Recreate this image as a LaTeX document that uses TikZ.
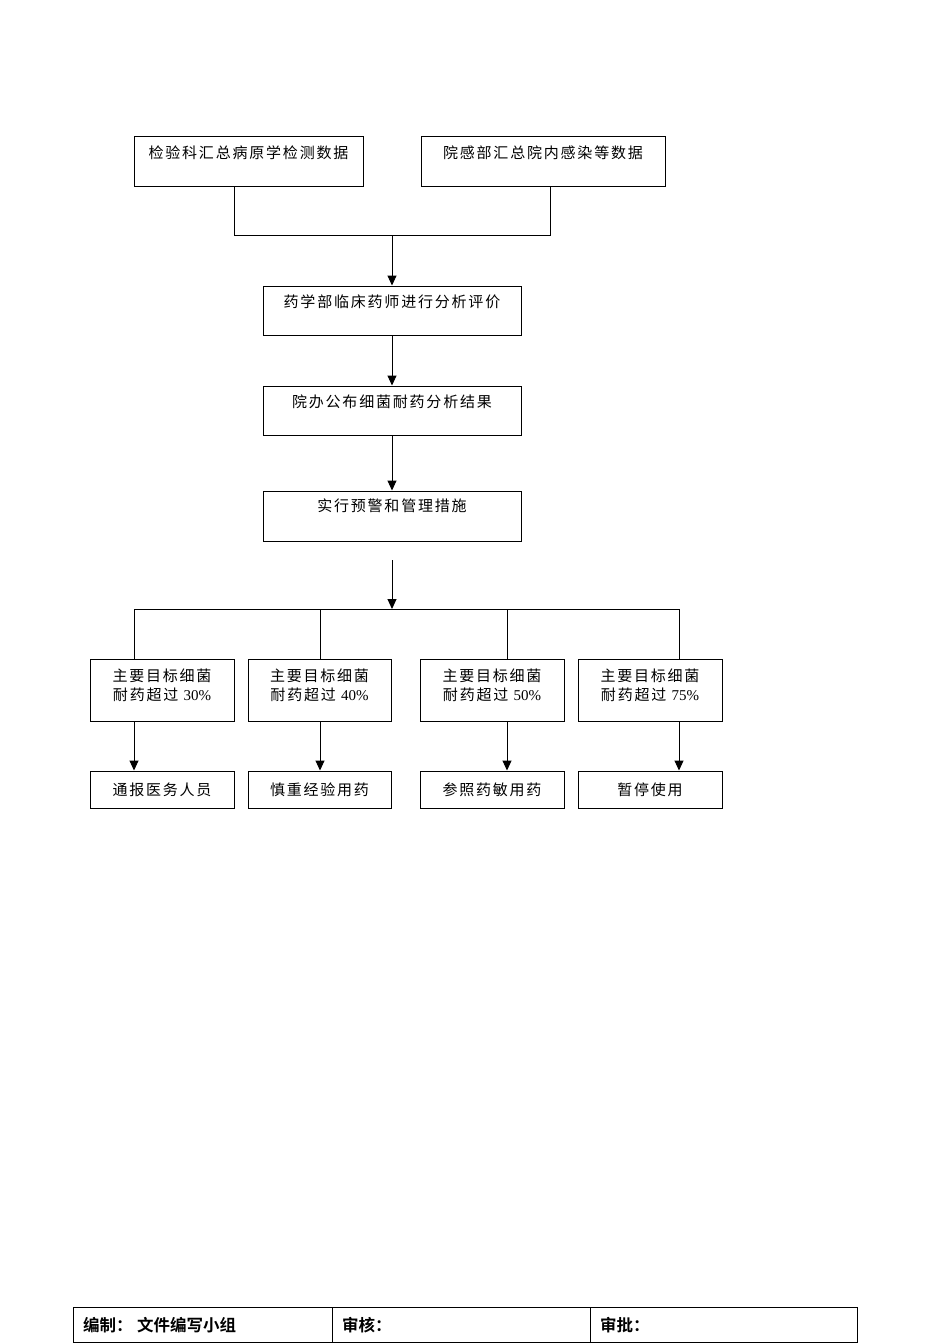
\documentclass[tikz,border=0pt]{standalone}
\usepackage{fontspec}
\usetikzlibrary{arrows.meta}
\newfontfamily\cjk[LetterSpace=12]{Noto Sans CJK SC}
\newfontfamily\cjkb[BoldFont=* Bold]{Noto Sans CJK SC}
\newfontfamily\numf{Liberation Serif}
\begin{document}
\begin{tikzpicture}[x=1pt,y=-1pt,
  box/.style={draw=black,line width=1pt,inner sep=0pt,fill=white},
  txt/.style={font=\fontsize{15}{19}\cjk,inner sep=0pt,align=center,text=black},
  arr/.style={line width=1pt,-{Triangle[length=10pt,width=9pt]}},
  ln/.style={line width=1pt},
  tb/.style={font=\fontsize{16.5}{18}\cjkb\bfseries,anchor=west,inner sep=0pt}]
\useasboundingbox[fill=white] (0,0) rectangle (950,1344);
% top boxes
\node[box,minimum width=229pt,minimum height=50pt] (a) at (248.5,161) {};
\node[txt] at ([yshift=-17pt]a.north) {检验科汇总病原学检测数据};
\node[box,minimum width=244pt,minimum height=50pt] (b) at (543,161) {};
\node[txt] at ([yshift=-17pt]b.north) {院感部汇总院内感染等数据};
\coordinate (j) at (392,235);
\draw[ln] ([xshift=-14.5pt]a.south) |- (j);
\draw[ln] ([xshift=7pt]b.south) |- (j);
% chain
\node[box,minimum width=258pt,minimum height=49pt] (c) at (392,310.5) {};
\node[txt] at ([yshift=-16pt]c.north) {药学部临床药师进行分析评价};
\node[box,minimum width=258pt,minimum height=49pt] (d) at (392,410.5) {};
\node[txt] at ([yshift=-16pt]d.north) {院办公布细菌耐药分析结果};
\node[box,minimum width=258pt,minimum height=50pt] (e) at (392,516) {};
\node[txt] at ([yshift=-15pt]e.north) {实行预警和管理措施};
\draw[arr] (j) -- (c.north);
\draw[arr] (c.south) -- (d.north);
\draw[arr] (d.south) -- (e.north);
% distribution
\coordinate (s) at (392,560);
\coordinate (h) at (392,609);
\draw[arr] (s) -- (h);
\coordinate (v1) at (134,609);
\coordinate (v2) at (320,609);
\coordinate (v3) at (507,609);
\coordinate (v4) at (679,609);
\draw[ln] (v1) -- (v4);
% threshold boxes
\node[box,minimum width=144pt,minimum height=62pt] (t1) at (162,690) {};
\node[box,minimum width=143pt,minimum height=62pt] (t2) at (319.5,690) {};
\node[box,minimum width=144pt,minimum height=62pt] (t3) at (492,690) {};
\node[box,minimum width=144pt,minimum height=62pt] (t4) at (650,690) {};
\node[txt] at ([yshift=-26.5pt]t1.north) {主要目标细菌\\耐药超过 {\numf 30\%}};
\node[txt] at ([yshift=-26.5pt]t2.north) {主要目标细菌\\耐药超过 {\numf 40\%}};
\node[txt] at ([yshift=-26.5pt]t3.north) {主要目标细菌\\耐药超过 {\numf 50\%}};
\node[txt] at ([yshift=-26.5pt]t4.north) {主要目标细菌\\耐药超过 {\numf 75\%}};
% result boxes
\node[box,minimum width=144pt,minimum height=37pt] (r1) at (162,789.5) {};
\node[box,minimum width=143pt,minimum height=37pt] (r2) at (319.5,789.5) {};
\node[box,minimum width=144pt,minimum height=37pt] (r3) at (492,789.5) {};
\node[box,minimum width=144pt,minimum height=37pt] (r4) at (650,789.5) {};
\node[txt] at (r1) {通报医务人员};
\node[txt] at (r2) {慎重经验用药};
\node[txt] at (r3) {参照药敏用药};
\node[txt] at (r4) {暂停使用};
\foreach \i in {1,2,3,4}{
  \draw[ln] (v\i) -- (v\i |- t\i.north);
  \draw[arr] (v\i |- t\i.south) -- (v\i |- r\i.north);
}
% footer table
\coordinate (f1) at (73,1307);
\coordinate (f2) at (857,1342);
\draw[ln] (f1) rectangle (f2);
\draw[ln] (332,1307) -- (332,1342);
\draw[ln] (590,1307) -- (590,1342);
\node[tb] (e1) at (83,1325) {编制：};
\node[tb] (e2) at (137,1325) {文件编写小组};
\node[tb] (e3) at (342,1325) {审核：};
\node[tb] (e4) at (600,1325) {审批：};
\end{tikzpicture}
\end{document}
